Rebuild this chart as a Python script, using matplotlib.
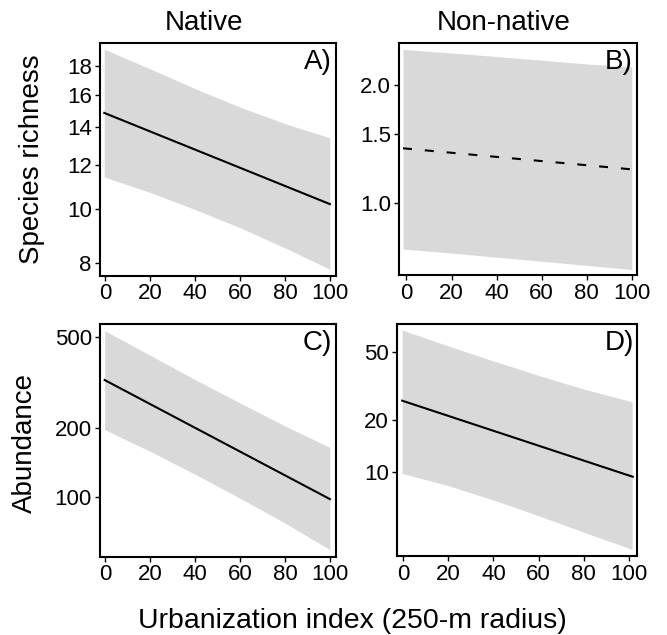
import numpy as np
import matplotlib
matplotlib.use("Agg")
import matplotlib.pyplot as plt
from matplotlib.ticker import FixedLocator, FixedFormatter, NullLocator

plt.rcParams.update({
    "font.family": "Liberation Sans",
    "axes.linewidth": 1.5,
    "xtick.major.width": 1.0,
    "ytick.major.width": 1.0,
    "xtick.major.size": 3.6,
    "ytick.major.size": 3.6,
    "xtick.major.pad": 2.0,
    "ytick.major.pad": 2.0,
    "xtick.labelsize": 16,
    "ytick.labelsize": 16,
})

C_BAND = "#d9d9d9"

# ----------------------------------------------------------------------
# Data (fitted values and 95% bands)
# ----------------------------------------------------------------------
# A) native species richness
a_line_x = [-0.5, 99.8]
a_line_y = [14.85, 10.2]
a_band_x = [-0.5, 20, 40, 60, 80, 99.8]
a_upper = [19.3, 17.8, 16.4, 15.2, 14.2, 13.4]
a_lower = [11.4, 10.7, 9.97, 9.25, 8.51, 7.8]

# B) non-native species richness (non-significant -> dashed)
b_line_x = [-1.5, 100]
b_line_y = [1.38, 1.22]
b_band_x = [-1.5, 20, 40, 60, 80, 100]
b_upper = [2.46, 2.41, 2.36, 2.31, 2.26, 2.22]
b_lower = [0.766, 0.748, 0.73, 0.713, 0.696, 0.679]

# C) native abundance
c_line_x = [-0.3, 99.8]
c_line_y = [323, 97.5]
c_band_x = [-0.3, 20, 40, 60, 80, 99.8]
c_upper = [531, 414, 324, 256, 203, 164]
c_lower = [196, 157.5, 125, 98.2, 76.4, 58.6]

# D) non-native abundance
d_line_x = [-0.5, 101.8]
d_line_y = [26.0, 9.36]
d_band_x = [-0.5, 20, 40, 60, 80, 101.5]
d_upper = [67, 54.2, 44.3, 36.5, 30.4, 25.6]
d_lower = [9.8, 8.3, 6.85, 5.55, 4.45, 3.53]

x_ticks = [0, 20, 40, 60, 80, 100]
a_yticks = [8, 10, 12, 14, 16, 18]
b_yticks = [1.0, 1.5, 2.0]
c_yticks = [100, 200, 500]
d_yticks = [10, 20, 50]

# ----------------------------------------------------------------------
fig = plt.figure(figsize=(6.67, 6.35), dpi=100)

panels = [
    # rect, xlim, ylim, data, yticks, ylabels, label, dashed
    ([0.1492, 0.5661, 0.3538, 0.3661], (-2.6, 102.3), (7.6, 19.8),
     (a_line_x, a_line_y, a_band_x, a_upper, a_lower),
     a_yticks, [str(v) for v in a_yticks], "A)", False),
    ([0.5982, 0.5666, 0.3561, 0.3652], (-3.3, 102.1), (0.657, 2.55),
     (b_line_x, b_line_y, b_band_x, b_upper, b_lower),
     b_yticks, [f"{v:.1f}" for v in b_yticks], "B)", True),
    ([0.1492, 0.1236, 0.3538, 0.3657], (-2.6, 102.3), (54.7, 566),
     (c_line_x, c_line_y, c_band_x, c_upper, c_lower),
     c_yticks, [str(v) for v in c_yticks], "C)", False),
    ([0.5948, 0.1244, 0.3607, 0.3649], (-2.9, 103.8), (3.23, 72.5),
     (d_line_x, d_line_y, d_band_x, d_upper, d_lower),
     d_yticks, [str(v) for v in d_yticks], "D)", False),
]

for rect, xlim, ylim, data, yt, ytl, label, dashed in panels:
    lx, ly, bx, up, lo = data
    ax = fig.add_axes(rect)
    ax.set_yscale("log")
    ax.fill_between(bx, lo, up, color=C_BAND, linewidth=0, zorder=1)
    if dashed:
        ax.plot(lx, ly, color="black", lw=1.5, dashes=(4.3, 6.2), zorder=2)
    else:
        ax.plot(lx, ly, color="black", lw=1.5, zorder=2)
    ax.set_xlim(*xlim)
    ax.set_ylim(*ylim)
    ax.xaxis.set_major_locator(FixedLocator(x_ticks))
    ax.yaxis.set_major_locator(FixedLocator(yt))
    ax.yaxis.set_major_formatter(FixedFormatter(ytl))
    ax.yaxis.set_minor_locator(NullLocator())
    ax.tick_params(direction="out")
    ax.text(0.985, 0.975, label, transform=ax.transAxes, ha="right",
            va="top", fontsize=20)

# column titles and axis labels
fig.text(204 / 667, 1 - 30 / 635, "Native", ha="center", va="baseline",
         fontsize=20)
fig.text(503.5 / 667, 1 - 30 / 635, "Non-native", ha="center",
         va="baseline", fontsize=20)
fig.text(0.0487, 0.7496, "Species richness", rotation=90, ha="center",
         va="center", fontsize=20)
fig.text(0.037, 0.3024, "Abundance", rotation=90, ha="center",
         va="center", fontsize=20)
fig.text(0.529, 0.011, "Urbanization index (250-m radius)", ha="center",
         va="baseline", fontsize=20.5)

fig.savefig("out.png", dpi=100, facecolor="white")
